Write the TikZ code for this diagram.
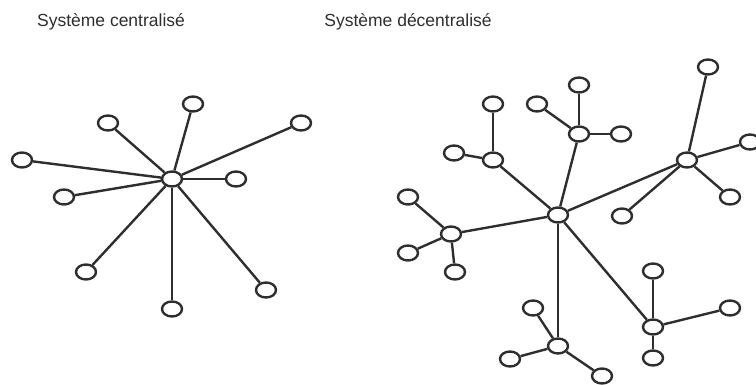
\documentclass[tikz,border=0pt]{standalone}
\usepackage{fontspec}
\setmainfont{Liberation Sans}
\usetikzlibrary{shapes.geometric}
\definecolor{ink}{HTML}{2E2E2E}
\begin{document}
\begin{tikzpicture}[x=1pt,y=-1pt,
  vertex/.style={ellipse,draw=ink,fill=white,line width=2.4pt,
    minimum width=20pt,minimum height=15pt,inner sep=0pt},
  link/.style={draw=ink,line width=2.4pt},
  heading/.style={font=\fontsize{17.5}{19}\selectfont,text=ink}]
\useasboundingbox (0,0) rectangle (756,385);

% Centralized system: a single hub
\node[heading] (t1) at (111,22) {Système centralisé};
\node[vertex] (c) at (172,179) {};
\node[vertex] (c1) at (193,104) {};
\node[vertex] (c2) at (108,123) {};
\node[vertex] (c3) at (301,123) {};
\node[vertex] (c4) at (22,160) {};
\node[vertex] (c5) at (64,197) {};
\node[vertex] (c6) at (236,179) {};
\node[vertex] (c7) at (86,272) {};
\node[vertex] (c8) at (172,309) {};
\node[vertex] (c9) at (266,290) {};
\foreach \n in {c1,c2,c3,c4,c5,c6,c7,c8,c9}
  \draw[link] (c) -- (\n);

% Decentralized system: hubs of hubs
\node[heading] (t2) at (408,22) {Système décentralisé};
\node[vertex] (d) at (558,215) {};
\node[vertex] (a) at (493,160) {};
\node[vertex] (a1) at (493,104) {};
\node[vertex] (a2) at (454,153) {};
\node[vertex] (b) at (579,134) {};
\node[vertex] (b1) at (579,85) {};
\node[vertex] (b2) at (537,104) {};
\node[vertex] (b3) at (621,134) {};
\node[vertex] (h) at (687,160) {};
\node[vertex] (h1) at (708,67) {};
\node[vertex] (h2) at (750,142) {};
\node[vertex] (h3) at (730,197) {};
\node[vertex] (h4) at (622,216) {};
\node[vertex] (l) at (451,234) {};
\node[vertex] (l1) at (408,197) {};
\node[vertex] (l2) at (408,253) {};
\node[vertex] (l3) at (455,272) {};
\node[vertex] (e) at (558,346) {};
\node[vertex] (e1) at (533,308) {};
\node[vertex] (e2) at (510,359) {};
\node[vertex] (e3) at (602,376) {};
\node[vertex] (f) at (653,327) {};
\node[vertex] (f1) at (653,271) {};
\node[vertex] (f2) at (730,308) {};
\node[vertex] (f3) at (653,358) {};

\foreach \n in {a,b,h,l,e,f}
  \draw[link] (d) -- (\n);
\foreach \n in {a1,a2} \draw[link] (a) -- (\n);
\foreach \n in {b1,b2,b3} \draw[link] (b) -- (\n);
\foreach \n in {h1,h2,h3,h4} \draw[link] (h) -- (\n);
\foreach \n in {l1,l2,l3} \draw[link] (l) -- (\n);
\foreach \n in {e1,e2,e3} \draw[link] (e) -- (\n);
\foreach \n in {f1,f2,f3} \draw[link] (f) -- (\n);
\end{tikzpicture}
\end{document}
